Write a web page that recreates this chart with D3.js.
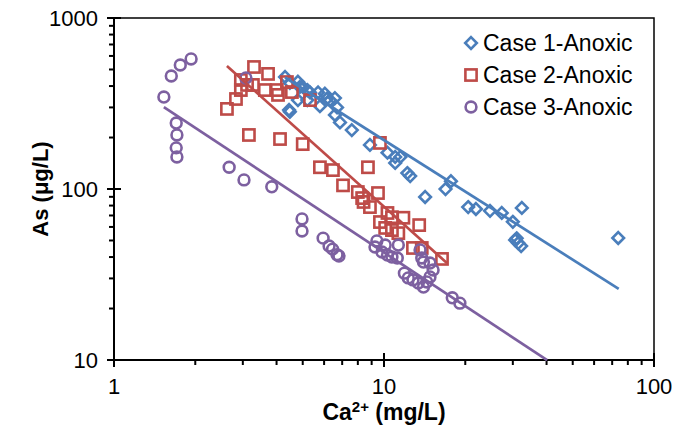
<!DOCTYPE html>
<html>
<head>
<meta charset="utf-8">
<script src="https://cdn.jsdelivr.net/npm/d3@7"></script>
<style>
  body { margin: 0; background: #fff; }
  svg { font-family: Arial, "Liberation Sans", sans-serif; }
</style>
</head>
<body>
<svg id="chart" width="680" height="442"></svg>
<script>
// Case 1-Anoxic: [Ca2+ mg/L, As ug/L]
var case1 = [
  [4.30, 452], [4.48, 417], [4.80, 424], [4.88, 395], [5.00, 395], [5.20, 379],
  [5.32, 367], [4.80, 331], [5.20, 331], [5.70, 367], [6.04, 361], [6.15, 338],
  [6.31, 331], [6.58, 340], [5.79, 305], [6.70, 300], [6.58, 271], [6.87, 245],
  [7.60, 221], [8.87, 181], [10.3, 163], [11.0, 154], [11.5, 154], [11.0, 142],
  [12.2, 124], [12.5, 119], [14.2, 89.8], [16.9, 99.9], [17.7, 111], [20.5, 78.4],
  [21.9, 76.4], [24.7, 74.5], [27.3, 72.5], [30.0, 64.3], [32.4, 77.5], [30.6, 50.3],
  [31.4, 48.3], [32.2, 46.4], [31.0, 51.5], [73.7, 51.7], [4.45, 290], [4.48, 283]
];
// Case 2-Anoxic
var case2 = [
  [3.30, 517], [3.72, 471], [2.95, 434], [3.11, 406], [2.95, 379], [2.83, 336],
  [2.62, 294], [3.27, 406], [3.62, 379], [4.01, 379], [4.05, 355], [4.37, 422],
  [4.56, 369], [5.32, 331], [3.16, 207], [4.12, 196], [5.00, 183], [5.79, 134],
  [6.47, 129], [8.72, 134], [9.66, 186], [7.05, 105], [8.00, 96.0], [8.30, 88.5],
  [8.40, 84.0], [9.50, 94.7], [8.87, 78.4], [10.3, 72.4], [10.7, 68.4], [11.8, 67.9],
  [13.5, 61.5], [9.66, 64.1], [10.1, 59.2], [10.7, 57.5], [11.3, 55.2], [12.8, 45.2],
  [13.8, 45.2], [16.4, 39.0]
];
// Case 3-Anoxic
var case3 = [
  [1.93, 576], [1.76, 531], [1.63, 458], [1.53, 345], [1.70, 243], [1.71, 207],
  [1.70, 174], [1.71, 154], [2.67, 134], [3.03, 113], [3.84, 103], [4.97, 66.8],
  [4.97, 56.8], [5.95, 51.6], [6.26, 46.4], [6.45, 44.5], [6.81, 40.6], [6.70, 41.3],
  [3.08, 446], [9.41, 49.7], [9.26, 45.8], [9.83, 42.8], [10.3, 41.1], [10.7, 40.0],
  [11.2, 39.5], [10.1, 47.0], [11.3, 47.0], [13.6, 44.0], [13.8, 39.5], [14.0, 37.4],
  [14.8, 36.9], [15.2, 33.6], [11.9, 32.2], [12.3, 30.2], [12.8, 29.4], [13.4, 28.2],
  [14.0, 26.7], [14.4, 28.6], [14.8, 30.6], [17.9, 23.1], [19.1, 21.5]
];

// power-law trendlines y = a * x^b, drawn from x0 to x1
var trend1 = { a: 1930, b: -1.0, x0: 4.3, x1: 74 };
var trend2 = { a: 2045, b: -1.414, x0: 2.62, x1: 17.1 };
var trend3 = { a: 470, b: -1.043, x0: 1.53, x1: 40.2 };

var seriesNames = ["Case 1-Anoxic", "Case 2-Anoxic", "Case 3-Anoxic"];
var seriesColors = ["#4A7EBB", "#BE4B48", "#7D60A0"];
var xTicks = [1, 10, 100];
var yTicks = [10, 100, 1000];

var svg = d3.select("#chart");
var pLeft = 114, pRight = 654, pTop = 18, pBottom = 360;

var x = d3.scaleLog().domain([1, 100]).range([pLeft, pRight]);
var y = d3.scaleLog().domain([10, 1000]).range([pBottom, pTop]);

// minor tick values
var minorX = [], minorY = [];
[1, 10].forEach(function(d) { for (var i = 2; i <= 9; i++) minorX.push(d * i); });
[10, 100].forEach(function(d) { for (var i = 2; i <= 9; i++) minorY.push(d * i); });

// plot frame
svg.append("rect")
  .attr("x", pLeft).attr("y", pTop)
  .attr("width", pRight - pLeft).attr("height", pBottom - pTop)
  .attr("fill", "none").attr("stroke", "#000").attr("stroke-width", 1.5);

var axes = svg.append("g").attr("stroke", "#000").attr("stroke-width", 2);
axes.append("line").attr("x1", pLeft).attr("x2", pRight).attr("y1", pBottom).attr("y2", pBottom);
axes.append("line").attr("x1", pLeft).attr("x2", pLeft).attr("y1", pTop).attr("y2", pBottom);

// x ticks
axes.selectAll(".xmaj").data(xTicks).enter().append("line")
  .attr("x1", d => x(d)).attr("x2", d => x(d))
  .attr("y1", pBottom - 7).attr("y2", pBottom + 7);
axes.selectAll(".xmin").data(minorX).enter().append("line")
  .attr("x1", d => x(d)).attr("x2", d => x(d))
  .attr("y1", pBottom).attr("y2", pBottom + 5);
// y ticks
axes.selectAll(".ymaj").data(yTicks).enter().append("line")
  .attr("x1", pLeft - 7).attr("x2", pLeft + 7)
  .attr("y1", d => y(d)).attr("y2", d => y(d));
axes.selectAll(".ymin").data(minorY).enter().append("line")
  .attr("x1", pLeft - 5).attr("x2", pLeft)
  .attr("y1", d => y(d)).attr("y2", d => y(d));

// tick labels
svg.selectAll(".xlab").data(xTicks).enter().append("text")
  .attr("x", d => x(d)).attr("y", pBottom + 34)
  .attr("text-anchor", "middle").attr("font-size", 22)
  .text(d => d);
svg.selectAll(".ylab").data(yTicks).enter().append("text")
  .attr("x", pLeft - 16).attr("y", d => y(d) + 8)
  .attr("text-anchor", "end").attr("font-size", 22)
  .text(d => d);

// axis titles
var xt = svg.append("text")
  .attr("x", x(10)).attr("y", 420)
  .attr("text-anchor", "middle").attr("font-size", 23).attr("font-weight", "bold");
xt.append("tspan").text("Ca");
xt.append("tspan").attr("font-size", 15).attr("dy", -8).text("2+");
xt.append("tspan").attr("dy", 8).text(" (mg/L)");

svg.append("text")
  .attr("transform", "translate(48," + ((pTop + pBottom) / 2) + ") rotate(-90)")
  .attr("text-anchor", "middle").attr("font-size", 22).attr("font-weight", "bold")
  .text("As (μg/L)");

var plot = svg.append("g");

function marker(g, type, color) {
  g.attr("fill", "none").attr("stroke", color).attr("stroke-width", 2.6);
  if (type === 0) {
    g.append("path").attr("d", "M0,-5.8L5.8,0L0,5.8L-5.8,0Z");
  } else if (type === 1) {
    g.append("rect").attr("x", -5.6).attr("y", -5.6).attr("width", 11.2).attr("height", 11.2);
  } else {
    g.append("circle").attr("r", 5.4);
  }
}

[case1, case2, case3].forEach(function(data, i) {
  plot.append("g").selectAll("g").data(data).enter().append("g")
    .attr("transform", d => "translate(" + x(d[0]) + "," + y(d[1]) + ")")
    .each(function() { marker(d3.select(this), i, seriesColors[i]); });
});

// trendlines
[trend1, trend2, trend3].forEach(function(t, i) {
  var pts = [t.x0, t.x1].map(v => [x(v), y(t.a * Math.pow(v, t.b))]);
  plot.append("path")
    .attr("d", d3.line()(pts))
    .attr("stroke", seriesColors[i]).attr("stroke-width", 2.7).attr("fill", "none");
});

// legend
var legend = svg.append("g");
seriesNames.forEach(function(name, i) {
  var ly = 43 + i * 32;
  var m = legend.append("g").attr("transform", "translate(471," + ly + ")");
  marker(m, i, seriesColors[i]);
  legend.append("text")
    .attr("x", 483).attr("y", ly + 8)
    .attr("font-size", 23)
    .text(name);
});
</script>
</body>
</html>
